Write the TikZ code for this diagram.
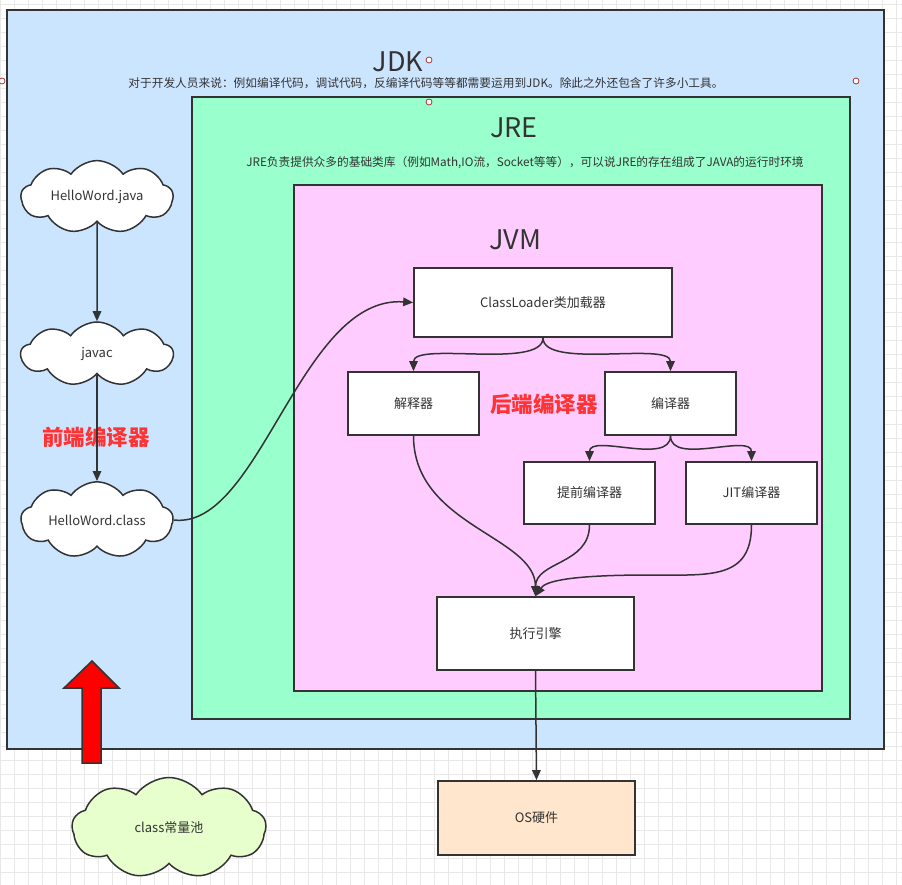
\documentclass[tikz,border=0pt]{standalone}
\usepackage{fontspec}
\setmainfont{Noto Sans CJK SC}
\usetikzlibrary{shapes.symbols,arrows.meta}
\definecolor{jdkc}{HTML}{CCE5FF}
\definecolor{jrec}{HTML}{99FFCC}
\definecolor{jvmc}{HTML}{FFCCFF}
\definecolor{osc}{HTML}{FFE6CC}
\definecolor{poolc}{HTML}{E6FFCC}
\definecolor{linec}{HTML}{333333}
\definecolor{redc}{HTML}{FF3333}
\definecolor{gridc}{HTML}{E8E8E8}
\definecolor{handc}{HTML}{AA3333}
\tikzset{
  area/.style={draw=linec, line width=1.7pt},
  box/.style={draw=linec, line width=1.7pt, fill=white, text=linec, font=\fontsize{13}{15}\selectfont, inner sep=0pt},
  cloudbox/.style={cloud, cloud puffs=9, cloud puff arc=110, aspect=2.5, draw=linec, line width=1.5pt, fill=white, text=linec, font=\fontsize{13}{15}\selectfont, inner sep=0pt},
  link/.style={draw=linec, line width=1.5pt, -{Triangle[length=10pt,width=8.5pt]}},
  title/.style={text=linec, font=\fontsize{27}{30}\selectfont, inner sep=0pt},
  subtitle/.style={text=linec, font=\fontsize{11.7}{13}\selectfont, inner sep=0pt},
  redlabel/.style={text=redc, font=\fontsize{21.5}{23}\selectfont\bfseries, inner sep=0pt},
  handle/.style={draw=handc, fill=white, line width=0.8pt}
}
\begin{document}
\begin{tikzpicture}[x=1pt,y=-1pt]
\useasboundingbox (0,0) rectangle (902,885);
\fill[white] (0,0) rectangle (902,885);
\foreach \i in {0,...,64} {\draw[gridc, line width=0.6pt] (\i*14,0) -- (\i*14,885);}
\foreach \j in {0,...,63} {\draw[gridc, line width=0.6pt] (0,4+\j*14) -- (902,4+\j*14);}
% containers
\draw[area, fill=jdkc] (7,10) rectangle (884,749);
\draw[area, fill=jrec] (192,97) rectangle (850,719);
\draw[area, fill=jvmc] (294,185) rectangle (822,691);
% titles
\node[title] (jdkt) at (398,62) {JDK};
\node[subtitle] (jdks) at (426,83) {对于开发人员来说：例如编译代码，调试代码，反编译代码等等都需要运用到JDK。除此之外还包含了许多小工具。};
\node[title] (jret) at (514,128) {JRE};
\node[subtitle] (jres) at (525,163) {JRE负责提供众多的基础类库（例如Math,IO流，Socket等等），可以说JRE的存在组成了JAVA的运行时环境};
\node[title] (jvmt) at (515,240) {JVM};
% handles
\draw[handle] (429,60) circle (3);
\draw[handle] (2,81) circle (3);
\draw[handle] (856,81) circle (3);
\draw[handle] (429,102) circle (3);
% boxes
\node[box, minimum width=258, minimum height=69] (cl) at (543,302.5) {ClassLoader类加载器};
\node[box, minimum width=131, minimum height=63] (jsq) at (413.5,403.5) {解释器};
\node[box, minimum width=131, minimum height=63] (byq) at (670.5,403.5) {编译器};
\node[box, minimum width=131, minimum height=62] (tq) at (589.5,493) {提前编译器};
\node[box, minimum width=131, minimum height=62] (jit) at (751.5,493) {JIT编译器};
\node[box, minimum width=197, minimum height=73] (exe) at (535.5,633.5) {执行引擎};
\node[box, fill=osc, minimum width=197, minimum height=74] (os) at (536.5,818) {OS硬件};
% clouds
\node[cloudbox, minimum width=152, minimum height=58] (java) at (97,197) {HelloWord.java};
\node[cloudbox, minimum width=152, minimum height=64] (javac) at (97,354) {javac};
\node[cloudbox, minimum width=152, minimum height=60] (cls) at (97,520) {HelloWord.class};
\node[cloudbox, fill=poolc, minimum width=194, minimum height=101] (pool) at (169,828) {class常量池};
% red labels
\node[redlabel] (front) at (96,437) {前端编译器};
\node[redlabel] (back) at (544,404) {后端编译器};
% connectors
\draw[link] (java.south) -- (javac.north);
\draw[link] (javac.south) -- (cls.north);
\draw[link] (cls.east) .. controls (260,530) and (300,295) .. (cl.west);
\draw[link] (cl.south) .. controls +(0,32) and +(0,-30) .. (jsq.north);
\draw[link] (cl.south) .. controls +(0,32) and +(0,-30) .. (byq.north);
\draw[link] (byq.south) .. controls +(0,30) and +(0,-28) .. (tq.north);
\draw[link] (byq.south) .. controls +(0,30) and +(0,-28) .. (jit.north);
\draw[link] (jsq.south) .. controls +(0,90) and +(0,-60) .. (exe.north);
\draw[link] (tq.south) .. controls +(0,40) and +(0,-35) .. (exe.north);
\coordinate (jitmid) at (650,575);
\draw[link] (jit.south) .. controls +(0,55) and +(60,0) .. (jitmid) .. controls +(-80,0) and +(10,-15) .. (exe.north);
\draw[link] (exe.south) -- (os.north);
% red block arrow
\draw[draw=linec, line width=1.5pt, fill=red] (92,661) -- (119,688) -- (101,688) -- (101,763) -- (82,763) -- (82,688) -- (64,688) -- cycle;
\end{tikzpicture}
\end{document}
